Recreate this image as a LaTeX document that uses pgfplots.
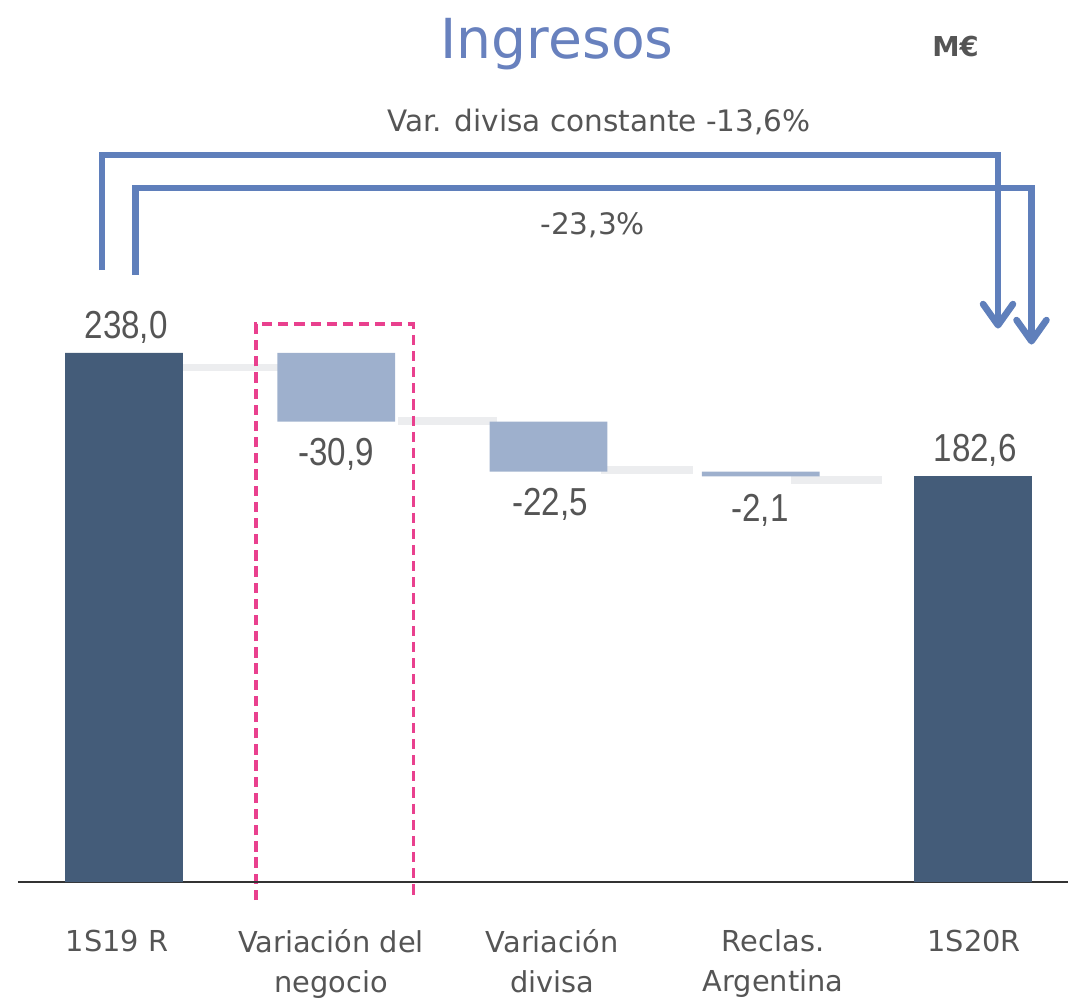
\documentclass[border=0pt]{standalone}
\usepackage{pgfplots}
\pgfplotsset{compat=1.18}
\usetikzlibrary{arrows.meta}
\usepackage{fontspec}
\setmainfont{DejaVu Sans}
\newfontfamily\numfont{Liberation Sans}[FakeStretch=0.85]
\definecolor{darkbar}{HTML}{445C79}
\definecolor{lightbar}{HTML}{9EB0CD}
\definecolor{conn}{HTML}{ECEDEF}
\definecolor{brk}{HTML}{5F7FBB}
\definecolor{pinkd}{HTML}{E9408E}
\definecolor{txt}{HTML}{555555}
\definecolor{ttl}{HTML}{6881BE}
\begin{document}
\begin{tikzpicture}
% ---------- decoration axis (connectors, brackets, box, texts)
\begin{axis}[
  width=10.50cm, height=8.82cm, scale only axis,
  xmin=-0.4994, xmax=4.4476, ymin=0, ymax=396.8,
  enlargelimits=false, hide axis, clip=false,
]
% connectors
\addplot[conn, line width=2.1pt] coordinates {(0.264,231.5) (0.744,231.5)};
\addplot[conn, line width=2.1pt] coordinates {(1.291,207.4) (1.757,207.4)};
\addplot[conn, line width=2.1pt] coordinates {(2.247,185.4) (2.681,185.4)};
\addplot[conn, line width=2.1pt] coordinates {(3.142,180.9) (3.571,180.9)};
% brackets
\addplot[brk, line width=1.9pt, line join=miter, -{Straight Barb[length=6pt,width=8.5pt,round]}]
  coordinates {(-0.1037,275.3) (-0.1037,327.1) (4.1178,327.1) (4.1178,249.0)};
\addplot[brk, line width=1.9pt, line join=miter, -{Straight Barb[length=6pt,width=8.5pt,round]}]
  coordinates {(0.0542,273.1) (0.0542,312.2) (4.2756,312.2) (4.2756,241.8)};
% pink dashed box
\addplot[pinkd, line width=0.9pt, dash pattern=on 2.9pt off 1.7pt]
  coordinates {(0.622,-8.1) (0.622,251) (1.362,251) (1.362,-8.1)};
% texts
\node[anchor=base, text=ttl, font=\fontsize{15.7}{18}\selectfont] at (axis cs:2.04,370.6) {Ingresos};
\node[anchor=base, text=txt, font=\fontsize{7.8}{9}\selectfont\bfseries] at (axis cs:3.918,371.3) {M€};
\node[anchor=base, text=txt, font=\fontsize{8.4}{10}\selectfont] at (axis cs:2.238,337.6) {Var. divisa constante -13,6\%};
\node[anchor=base, text=txt, font=\fontsize{8.4}{10}\selectfont] at (axis cs:2.208,291.1) {-23,3\%};
\end{axis}
% ---------- bar axis
\begin{axis}[
  width=10.50cm, height=8.82cm, scale only axis,
  xmin=-0.4994, xmax=4.4476, ymin=0, ymax=396.8,
  enlargelimits=false, clip=false,
  ybar stacked, bar width=0.555,
  axis x line*=bottom, axis y line=none,
  x axis line style={draw=black!80, line width=0.7pt},
  ytick=\empty,
  xtick={-0.033,0.975,2.017,3.058,4.005},
  xticklabels={1S19 R, Variación del\\negocio, Variación\\divisa, Reclas.\\Argentina, 1S20R},
  major tick length=0pt,
  xticklabel style={anchor=north, inner sep=0pt, yshift=-0.47cm, align=center,
    text=txt, font=\fontsize{8.2}{11.3}\selectfont},
]
\addplot[draw=none, fill=none] coordinates {(0,0) (1,207.1) (2,184.6) (3,182.5) (4,0)};
\addplot[draw=none, fill=darkbar] coordinates {(0,238) (1,0) (2,0) (3,0) (4,182.6)};
\addplot[draw=none, fill=lightbar] coordinates {(0,0) (1,30.9) (2,22.5) (3,2.1) (4,0)};
\node[anchor=base, text=txt, font=\numfont\fontsize{11.1}{13}\selectfont] at (axis cs:0.01,244.3) {238,0};
\node[anchor=base, text=txt, font=\numfont\fontsize{11.1}{13}\selectfont] at (axis cs:1.0,187.3) {-30,9};
\node[anchor=base, text=txt, font=\numfont\fontsize{11.1}{13}\selectfont] at (axis cs:2.007,165.1) {-22,5};
\node[anchor=base, text=txt, font=\numfont\fontsize{11.1}{13}\selectfont] at (axis cs:2.996,162.1) {-2,1};
\node[anchor=base, text=txt, font=\numfont\fontsize{11.1}{13}\selectfont] at (axis cs:4.01,189.1) {182,6};
\end{axis}
\pgfresetboundingbox
\path[use as bounding box] (-0.18cm,-1.16cm) rectangle (10.50cm,8.82cm);
\end{tikzpicture}
\end{document}
